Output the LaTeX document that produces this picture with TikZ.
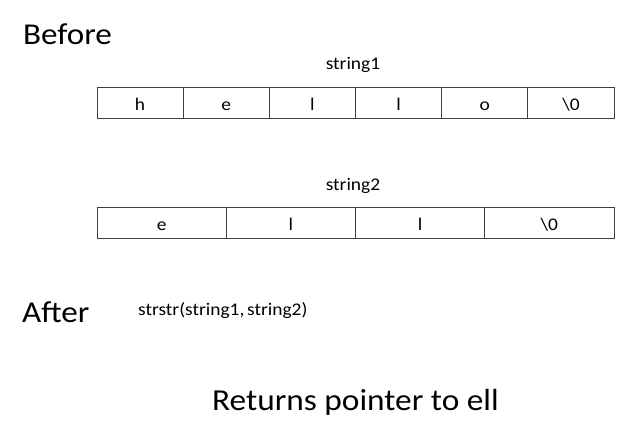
\documentclass[tikz,border=0pt]{standalone}
\usepackage{fontspec}
\usepackage{graphicx}
\setmainfont{Carlito}
\newcommand{\hst}[1]{\scalebox{1.093}[1]{#1}}
\begin{document}
\begin{tikzpicture}[x=1pt,y=-1pt,
  cell/.style={draw=black!75,line width=0.8pt,inner sep=0pt},
  ctext/.style={font=\fontsize{17.8}{21}\selectfont,anchor=base,inner sep=0pt},
  lbl/.style={font=\fontsize{17.8}{21}\selectfont,anchor=base,inner sep=0pt},
  big/.style={font=\fontsize{30.3}{36}\selectfont,anchor=base west,inner sep=0pt}]
\useasboundingbox (0,0) rectangle (621,426);
\node[big] (before) at (23,44) {\hst{Before}};
\node[lbl] (s1) at (353,69) {\hst{string1}};
\foreach \c [count=\i from 0] in {h,e,l,l,o,\textbackslash0}{
  \draw[cell] ({97+86.17*\i},87) rectangle ({97+86.17*(\i+1)},118);
  \node[ctext] (a\i) at ({97+86.17*(\i+0.5)},110) {\hst{\c}};
}
\node[lbl] (s2) at (353,190) {\hst{string2}};
\foreach \c [count=\i from 0] in {e,l,l,\textbackslash0}{
  \draw[cell] ({97+129.25*\i},207.5) rectangle ({97+129.25*(\i+1)},238.5);
  \node[ctext] (b\i) at ({97+129.25*(\i+0.5)},230) {\hst{\c}};
}
\node[big] (after) at (22,322) {\hst{After}};
\node[font=\fontsize{17.8}{21}\selectfont,anchor=base west,inner sep=0pt] (call) at (138,315) {\hst{strstr(string1,\kern-1.5pt{} string2)}};
\node[font=\fontsize{30.5}{36}\selectfont,anchor=base,inner sep=0pt] (ret) at (355.5,410) {\hst{Returns pointer to ell}};
\end{tikzpicture}
\end{document}
